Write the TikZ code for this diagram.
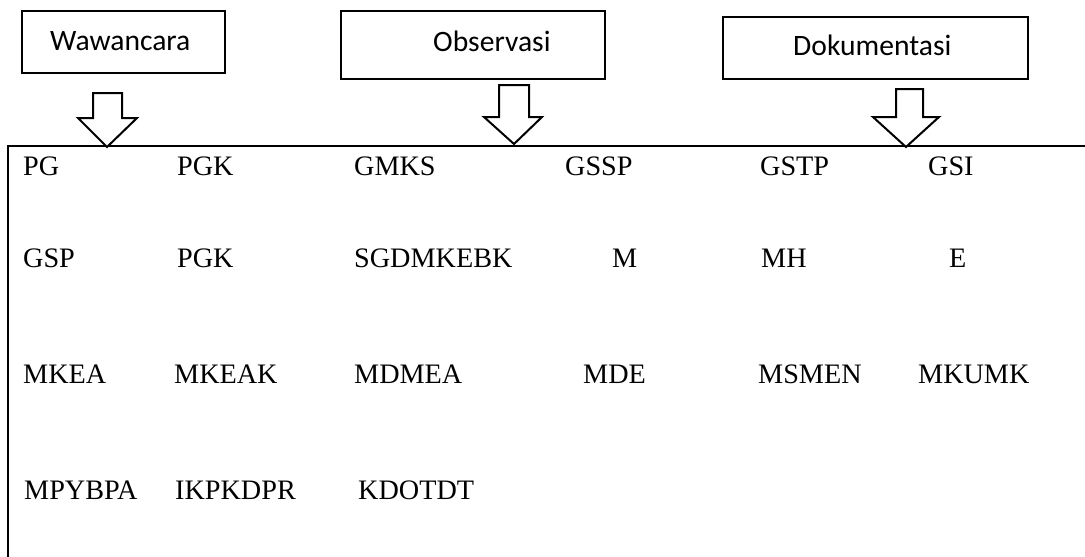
\documentclass[tikz,border=0pt]{standalone}
\usepackage{fontspec}
\setmainfont{Liberation Serif}
\newfontfamily\boxfont{Carlito}
\begin{document}
\begin{tikzpicture}[x=1pt,y=-1pt,
  srcbox/.style={draw,line width=2.2pt,rectangle,inner sep=0pt},
  srclbl/.style={inner sep=0pt,anchor=base west,font=\boxfont\fontsize{29.6}{34}\selectfont},
  blockarrow/.style={draw,line width=2pt,line join=miter,fill=white},
  frameline/.style={line width=2.4pt},
  code/.style={inner sep=0pt,anchor=base west,font=\fontsize{28.2}{33}\selectfont}]
\useasboundingbox (0,0) rectangle (1085,557);
% source boxes
\node[srcbox,minimum width=203pt,minimum height=62pt] (bw) at (123.5,42) {};
\node[srcbox,minimum width=264pt,minimum height=68pt] (bo) at (473,45) {};
\node[srcbox,minimum width=305pt,minimum height=62pt] (bd) at (875.5,48) {};
\node[srclbl] (lw) at (50,50) {Wawancara};
\node[srclbl] (lo) at (433,51) {Observasi};
\node[srclbl] (ld) at (793,55) {Dokumentasi};
% frame
\coordinate (ftl) at (8,146);
\coordinate (ftr) at (1090,146);
\coordinate (fbl) at (8,562);
\draw[frameline] (ftr) -- (ftl) -- (fbl);
% block arrows
\draw[blockarrow] (93,93) -- (122,93) -- (122,118) -- (137,118) -- (107,147) -- (78,118) -- (93,118) -- cycle;
\draw[blockarrow] (499,85) -- (529,85) -- (529,117) -- (542,117) -- (514,144) -- (484,117) -- (499,117) -- cycle;
\draw[blockarrow] (896,89) -- (923,89) -- (923,117) -- (939,117) -- (906,147) -- (873,117) -- (896,117) -- cycle;
% row 1
\node[code] (r1a) at (23,175) {PG};
\node[code] (r1b) at (177,175) {PGK};
\node[code] (r1c) at (354,175) {GMKS};
\node[code] (r1d) at (565,175) {GSSP};
\node[code] (r1e) at (760,175) {GSTP};
\node[code] (r1f) at (928,175) {GSI};
% row 2
\node[code] (r2a) at (23,267) {GSP};
\node[code] (r2b) at (177,267) {PGK};
\node[code] (r2c) at (354,267) {SGDMKEBK};
\node[code] (r2d) at (612,267) {M};
\node[code] (r2e) at (761,267) {MH};
\node[code] (r2f) at (949,267) {E};
% row 3
\node[code] (r3a) at (23,383) {MKEA};
\node[code] (r3b) at (174,383) {MKEAK};
\node[code] (r3c) at (354,383) {MDMEA};
\node[code] (r3d) at (583,383) {MDE};
\node[code] (r3e) at (758,383) {MSMEN};
\node[code] (r3f) at (918,383) {MKUMK};
% row 4
\node[code] (r4a) at (24,499) {MPYBPA};
\node[code] (r4b) at (175,499) {IKPKDPR};
\node[code] (r4c) at (358,499) {KDOTDT};
\end{tikzpicture}
\end{document}
